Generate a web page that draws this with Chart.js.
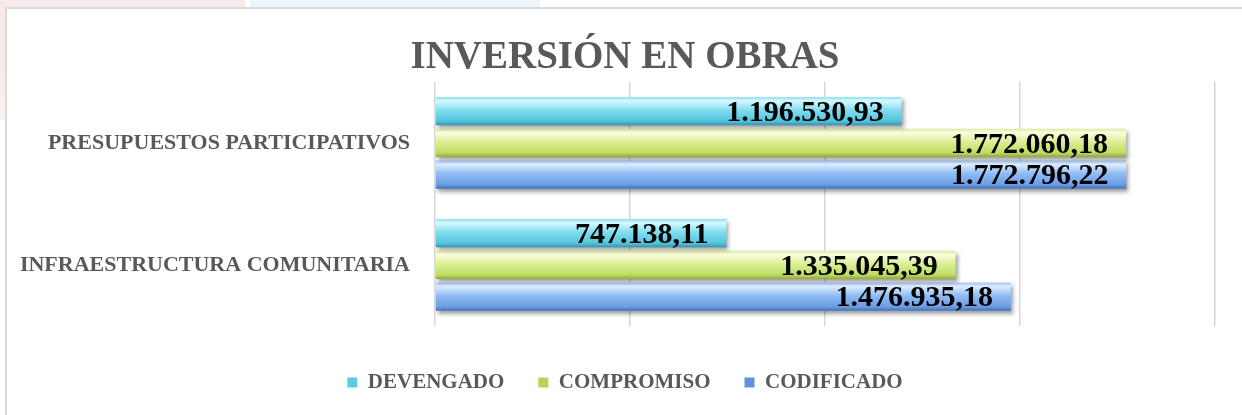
<!DOCTYPE html>
<html><head><meta charset="utf-8">
<script src="https://cdn.jsdelivr.net/npm/chart.js@4"></script>
<style>
html,body{margin:0;padding:0;background:#fff;width:1242px;height:415px;overflow:hidden;position:relative}
#pink{position:absolute;left:0;top:0;width:245px;height:8px;background:#fae9e9}
#pinkL{position:absolute;left:0;top:0;width:6px;height:120px;background:linear-gradient(#fae9e9,#fae9e9 60%,#fbf3f3)}
#blue{position:absolute;left:250px;top:0;width:290px;height:8px;background:#eef5fb}
#frame{position:absolute;left:5px;top:7px;right:-10px;bottom:-10px;border-left:2px solid #dadada;border-top:2px solid #dadada;background:#fff}
#c{position:absolute;left:0;top:0}
</style></head>
<body>
<div id="pink"></div><div id="pinkL"></div><div id="blue"></div><div id="frame"></div>
<canvas id="c" width="1242" height="415"></canvas>
<script>
const categories = ['PRESUPUESTOS PARTICIPATIVOS', 'INFRAESTRUCTURA COMUNITARIA'];
const seriesNames = ['DEVENGADO', 'COMPROMISO', 'CODIFICADO'];
const devengado = [1196530.93, 747138.11];
const compromiso = [1772060.18, 1335045.39];
const codificado = [1772796.22, 1476935.18];
const axisMax = 2000000;
const axisStep = 500000;

const CAT = 0.78, BAR = 0.89;
const GRAD = [
  {solid:'#5ccbe2', stops:[[0,'#8fe0ef'],[0.14,'#d8fafe'],[0.45,'#82def0'],[0.85,'#55c4dc'],[1,'#3394ab']]},
  {solid:'#b3d55a', stops:[[0,'#dcec9c'],[0.14,'#fbfde2'],[0.45,'#ddef98'],[0.85,'#bfdc62'],[1,'#8faa3c']]},
  {solid:'#5f91dc', stops:[[0,'#a7c6f2'],[0.14,'#ddecff'],[0.45,'#92bdf4'],[0.85,'#6c9ee6'],[1,'#4471b6']]}
];

function barFill(ctx){
  const g = GRAD[ctx.datasetIndex];
  if (ctx.type !== 'data') return g.solid;
  const chart = ctx.chart, y = chart.scales.y;
  if (!chart.chartArea || !y) return g.solid;
  const n = categories.length;
  const catH = y.height / n;
  const slot = catH * CAT / 3;
  const center = y.getPixelForValue(ctx.dataIndex) + (ctx.datasetIndex - 1) * slot;
  const h = slot * BAR;
  const grad = chart.ctx.createLinearGradient(0, center - h/2, 0, center + h/2);
  g.stops.forEach(s => grad.addColorStop(s[0], s[1]));
  return grad;
}

function fmt(v){
  const parts = v.toFixed(2).split('.');
  return parts[0].replace(/\B(?=(\d{3})+(?!\d))/g, '.') + ',' + parts[1];
}

const fx = {
  id: 'fx',
  beforeDatasetsDraw(chart){
    const c = chart.ctx;
    c.save();
    c.shadowColor = 'rgba(0,0,0,0.38)';
    c.shadowBlur = 4;
    c.shadowOffsetX = 2;
    c.shadowOffsetY = 3;
  },
  afterDatasetsDraw(chart){
    const c = chart.ctx;
    c.restore();
    c.save();
    c.font = 'bold 30px "Liberation Serif", serif';
    c.fillStyle = '#000';
    c.textAlign = 'right';
    c.textBaseline = 'middle';
    chart.data.datasets.forEach((ds, i) => {
      chart.getDatasetMeta(i).data.forEach((el, j) => {
        c.fillText(fmt(ds.data[j]), el.x - 18, el.y + 2);
      });
    });
    c.restore();
  }
};

const serif = '"Liberation Serif", "Times New Roman", serif';

new Chart(document.getElementById('c'), {
  type: 'bar',
  data: {
    labels: categories,
    datasets: [
      {label: seriesNames[0], data: devengado, backgroundColor: barFill, borderWidth: 0},
      {label: seriesNames[1], data: compromiso, backgroundColor: barFill, borderWidth: 0},
      {label: seriesNames[2], data: codificado, backgroundColor: barFill, borderWidth: 0}
    ]
  },
  options: {
    indexAxis: 'y',
    responsive: false,
    animation: false,
    devicePixelRatio: 1,
    layout: {padding: {left: 8, right: 0, top: 0, bottom: 12}},
    datasets: {bar: {categoryPercentage: CAT, barPercentage: BAR}},
    scales: {
      x: {
        min: 0, max: axisMax,
        ticks: {display: false, stepSize: axisStep},
        grid: {color: '#d6d6d6', lineWidth: 1.5, drawTicks: false},
        border: {display: false},
        afterFit(s){ s.height = 12; }
      },
      y: {
        ticks: {color: '#595959', padding: 25, font: {family: serif, size: 22, weight: 'bold'}},
        grid: {display: false, drawTicks: false},
        border: {display: false},
        afterFit(s){ s.width = 427; }
      },
      yRight: {
        type: 'category',
        axis: 'y',
        position: 'right',
        ticks: {display: false},
        grid: {display: false, drawTicks: false},
        border: {display: false},
        afterFit(s){ s.width = 27; }
      }
    },
    plugins: {
      colors: {enabled: false},
      title: {
        display: true,
        text: 'INVERSIÓN EN OBRAS',
        color: '#595959',
        font: {family: serif, size: 39, weight: 'bold', lineHeight: 1.2},
        padding: {top: 35, bottom: 0}
      },
      legend: {
        position: 'bottom',
        labels: {
          color: '#595959',
          boxWidth: 10, boxHeight: 10,
          padding: 34,
          font: {family: serif, size: 21, weight: 'bold'},
          generateLabels(chart){
            const items = Chart.defaults.plugins.legend.labels.generateLabels(chart);
            items.forEach(it => { it.fillStyle = GRAD[it.datasetIndex].solid; it.lineWidth = 0; });
            return items;
          }
        }
      },
      tooltip: {enabled: false}
    }
  },
  plugins: [fx]
});
</script>
</body></html>
